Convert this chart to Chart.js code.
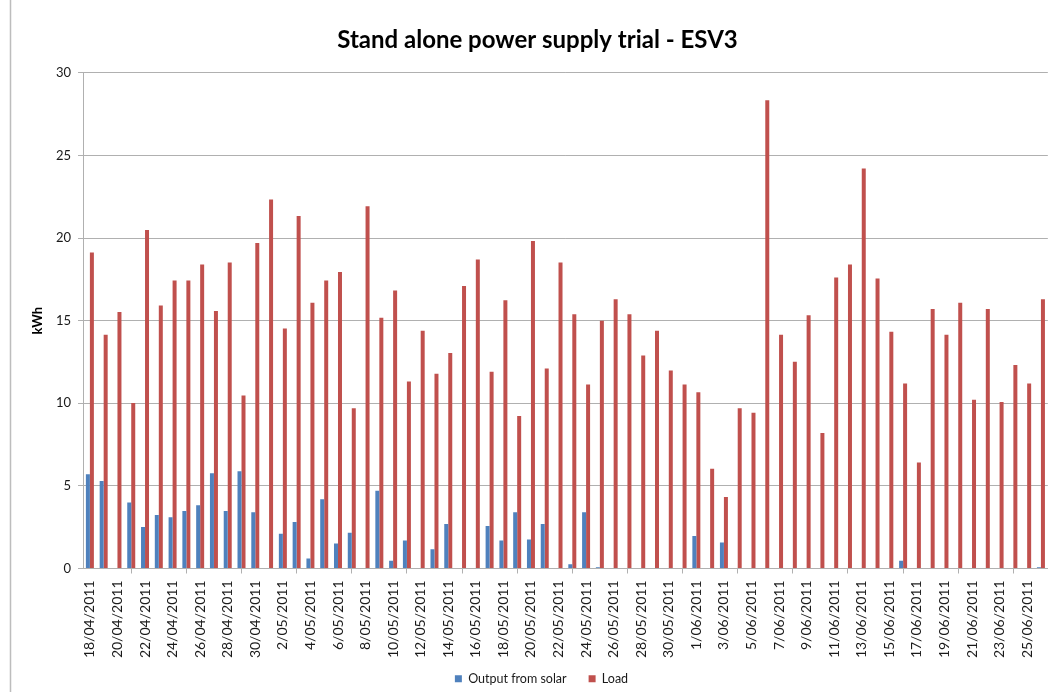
<!DOCTYPE html>
<html>
<head>
<meta charset="utf-8">
<title>Stand alone power supply trial - ESV3</title>
<script src="https://cdn.jsdelivr.net/npm/chart.js@4"></script>
<style>
  html, body { margin: 0; padding: 0; background: #fff; }
  #trialChart { display: block; }
</style>
</head>
<body>
<canvas id="trialChart" width="1051" height="692"></canvas>
<script>
// Daily readings, 18 April to 26 June 2011
const days = [
    "18/04/2011", "19/04/2011", "20/04/2011", "21/04/2011", "22/04/2011", "23/04/2011", "24/04/2011",
    "25/04/2011", "26/04/2011", "27/04/2011", "28/04/2011", "29/04/2011", "30/04/2011",
    "1/05/2011", "2/05/2011", "3/05/2011", "4/05/2011", "5/05/2011", "6/05/2011", "7/05/2011",
    "8/05/2011", "9/05/2011", "10/05/2011", "11/05/2011", "12/05/2011", "13/05/2011", "14/05/2011",
    "15/05/2011", "16/05/2011", "17/05/2011", "18/05/2011", "19/05/2011", "20/05/2011", "21/05/2011",
    "22/05/2011", "23/05/2011", "24/05/2011", "25/05/2011", "26/05/2011", "27/05/2011", "28/05/2011",
    "29/05/2011", "30/05/2011", "31/05/2011",
    "1/06/2011", "2/06/2011", "3/06/2011", "4/06/2011", "5/06/2011", "6/06/2011", "7/06/2011",
    "8/06/2011", "9/06/2011", "10/06/2011", "11/06/2011", "12/06/2011", "13/06/2011", "14/06/2011",
    "15/06/2011", "16/06/2011", "17/06/2011", "18/06/2011", "19/06/2011", "20/06/2011", "21/06/2011",
    "22/06/2011", "23/06/2011", "24/06/2011", "25/06/2011", "26/06/2011"
];

// kWh per day
const solarOutput = [
    5.71, 5.30, 0, 3.99, 2.51, 3.24, 3.10,
    3.48, 3.83, 5.77, 3.48, 5.89, 3.40,
    0, 2.11, 2.81, 0.61, 4.19, 1.52, 2.17,
    0, 4.70, 0.47, 1.70, 0, 1.17, 2.69,
    0, 0, 2.57, 1.70, 3.40, 1.76, 2.69,
    0, 0.26, 3.40, 0.08, 0, 0, 0,
    0, 0, 0,
    1.96, 0, 1.58, 0, 0, 0, 0,
    0, 0, 0, 0, 0, 0, 0,
    0, 0.47, 0, 0, 0, 0, 0,
    0, 0, 0, 0, 0.08
];

const load = [
    19.13, 14.15, 15.53, 10.02, 20.49, 15.91, 17.43,
    17.43, 18.40, 15.59, 18.52, 10.47, 19.70,
    22.33, 14.53, 21.34, 16.09, 17.43, 17.94, 9.70,
    21.92, 15.18, 16.82, 11.32, 14.39, 11.78, 13.04,
    17.09, 18.70, 11.90, 16.23, 9.23, 19.82, 12.11,
    18.52, 15.38, 11.13, 15.00, 16.30, 15.38, 12.89,
    14.39, 11.98, 11.13,
    10.67, 6.03, 4.33, 9.70, 9.43, 28.34, 14.15,
    12.51, 15.32, 8.20, 17.61, 18.40, 24.21, 17.55,
    14.33, 11.19, 6.42, 15.71, 14.15, 16.09, 10.22,
    15.71, 10.08, 12.31, 11.19, 16.30
];

const axisGrey = "#b0b0b0";

Chart.defaults.font.family = "Lato, 'Open Sans', sans-serif";
Chart.defaults.color = "#1a1a1a";

// thin frame line on the left edge of the chart
const framePlugin = {
    id: "frame",
    beforeDraw(chart) {
        const c = chart.ctx;
        c.save();
        c.strokeStyle = "#bdbdbd";
        c.lineWidth = 1.5;
        c.beginPath();
        c.moveTo(10.5, 0);
        c.lineTo(10.5, chart.height);
        c.stroke();
        c.restore();
    }
};

// the date labels run long, so the legend sits partly beside them
const legendLift = {
    id: "legendLift",
    afterLayout(chart) {
        chart.legend.top -= 18;
        chart.legend.bottom -= 18;
        chart.legend.left += 4;
        chart.legend.right += 4;
    }
};

const ctx = document.getElementById("trialChart").getContext("2d");

const chart = new Chart(ctx, {
    type: "bar",
    data: {
        labels: days,
        datasets: [
            { label: "Output from solar", data: solarOutput, backgroundColor: "#4f81bd" },
            { label: "Load", data: load, backgroundColor: "#c0504d" }
        ]
    },
    options: {
        responsive: false,
        animation: false,
        devicePixelRatio: 1,
        datasets: {
            bar: { categoryPercentage: 0.58, barPercentage: 1 }
        },
        layout: {
            padding: { top: 0, left: 26, right: 2, bottom: -21 }
        },
        plugins: {
            title: {
                display: true,
                text: "Stand alone power supply trial - ESV3",
                color: "#000",
                font: { size: 24, weight: "bold" },
                padding: { top: 26, bottom: 18 }
            },
            legend: {
                position: "bottom",
                labels: {
                    boxWidth: 7,
                    boxHeight: 7,
                    padding: 22,
                    font: { size: 12.5 }
                }
            },
            tooltip: { enabled: false }
        },
        scales: {
            x: {
                grid: {
                    drawOnChartArea: false,
                    tickLength: 5,
                    color: c => (c.index % 2 === 0 ? axisGrey : "rgba(0,0,0,0)")
                },
                border: { color: axisGrey },
                ticks: {
                    autoSkip: false,
                    minRotation: 90,
                    maxRotation: 90,
                    padding: 7,
                    font: { size: 14 },
                    callback: function (value, index) {
                        return index % 2 === 0 ? this.getLabelForValue(value) : null;
                    }
                },
                afterFit: scale => { scale.height = 100; }
            },
            y: {
                min: 0,
                max: 30,
                ticks: { stepSize: 5, padding: 7, font: { size: 13 } },
                grid: { color: axisGrey, tickLength: 5 },
                border: { color: axisGrey },
                title: {
                    display: true,
                    text: "kWh",
                    color: "#000",
                    font: { size: 13, weight: "bold" }
                },
                afterFit: scale => { scale.width = 57; }
            }
        }
    },
    plugins: [framePlugin, legendLift]
});
</script>
</body>
</html>
